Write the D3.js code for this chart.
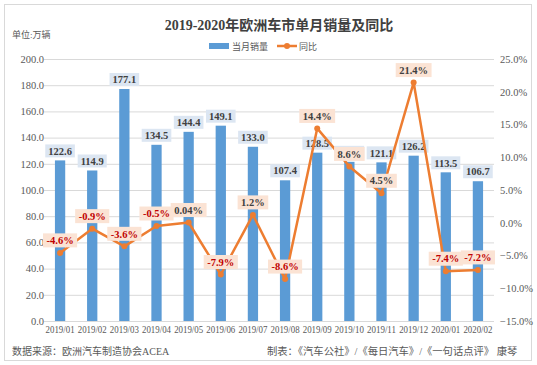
<!DOCTYPE html>
<html><head><meta charset="utf-8">
<script src="https://cdn.jsdelivr.net/npm/d3@7"></script>
<style>body{margin:0;background:#fff}svg{display:block}</style>
</head><body><svg id="c" width="537" height="365"></svg>
<script>
const categories = ["2019/01","2019/02","2019/03","2019/04","2019/05","2019/06","2019/07","2019/08","2019/09","2019/10","2019/11","2019/12","2020/01","2020/02"];
const sales = [122.6,114.9,177.1,134.5,144.4,149.1,133.0,107.4,128.5,121.5,121.1,126.2,113.5,106.7];
const yoy = [-4.6,-0.9,-3.6,-0.5,0.04,-7.9,1.2,-8.6,14.4,8.6,4.5,21.4,-7.4,-7.2];
const yoyLabels = ["-4.6%","-0.9%","-3.6%","-0.5%","0.04%","-7.9%","1.2%","-8.6%","14.4%","8.6%","4.5%","21.4%","-7.4%","-7.2%"];
const leftTicks = [0,20,40,60,80,100,120,140,160,180,200];
const rightTicks = [-15,-10,-5,0,5,10,15,20,25];

const svg = d3.select("#c");
const serif = "'Liberation Serif','DejaVu Serif',serif";
const cjk = "'Liberation Serif','Noto Sans CJK SC',sans-serif";

svg.append("rect").attr("x",4.5).attr("y",4.5).attr("width",527).attr("height",356)
  .attr("fill","#fff").attr("stroke","#d9d9d9");

const x = d3.scaleBand().domain(categories).range([44,494]).paddingInner(0.68).paddingOuter(0.34);
const yL = d3.scaleLinear().domain([0,200]).range([321,59]);
const yR = d3.scaleLinear().domain([-15,25]).range([321,59]);

// gridlines
svg.append("g").selectAll("line").data(leftTicks).join("line")
  .attr("x1",44).attr("x2",494).attr("y1",d=>yL(d)+0.5).attr("y2",d=>yL(d)+0.5)
  .attr("stroke","#d9d9d9");

// left axis
const ga = svg.append("g").attr("transform","translate(47,0)")
  .call(d3.axisLeft(yL).tickValues(leftTicks).tickFormat(d3.format(".1f")).tickSize(0).tickPadding(3));
ga.select(".domain").remove();
ga.selectAll("text").attr("font-family",serif).attr("font-size",10.5).attr("fill","#595959");

// right axis
const gr = svg.append("g").attr("transform","translate(497,0)")
  .call(d3.axisRight(yR).tickValues(rightTicks).tickFormat(d=>d3.format(".1f")(d)+"%").tickSize(0).tickPadding(3));
gr.select(".domain").remove();
gr.selectAll("text").attr("font-family",serif).attr("font-size",10.5).attr("fill","#595959");

// x axis
const gx = svg.append("g").attr("transform","translate(0,321)")
  .call(d3.axisBottom(x).tickSize(0).tickPadding(5));
gx.select(".domain").remove();
gx.selectAll("text").attr("font-family",serif).attr("font-size",10).attr("fill","#595959")
  .attr("textLength",29).attr("lengthAdjust","spacingAndGlyphs");

// bars
svg.append("g").selectAll("rect").data(sales).join("rect")
  .attr("x",(d,i)=>x(categories[i])).attr("width",x.bandwidth())
  .attr("y",d=>yL(d)).attr("height",d=>yL(0)-yL(d)).attr("fill","#5b9bd5");

// bar labels
const bl = svg.append("g").selectAll("g").data(sales).join("g")
  .attr("transform",(d,i)=>`translate(${x(categories[i])+x.bandwidth()/2},${yL(d)-9.5})`);
const blr = bl.append("rect").attr("y",-6.5).attr("height",13).attr("fill","#dce6f2");
const blt = bl.append("text").attr("text-anchor","middle").attr("dy","0.35em")
  .attr("font-family",serif).attr("font-weight","bold").attr("font-size",10.5).attr("fill","#404040")
  .text(d=>d.toFixed(1));
blt.each(function(d,i){
  const w = this.getComputedTextLength()+6;
  d3.select(blr.nodes()[i]).attr("x",-w/2).attr("width",w);
});

// line
const cx = i => x(categories[i]) + x.bandwidth()/2;
svg.append("path").datum(yoy)
  .attr("d", d3.line().x((d,i)=>cx(i)).y(d=>yR(d)))
  .attr("fill","none").attr("stroke","#ed7d31").attr("stroke-width",2.5).attr("stroke-linejoin","round");
svg.append("g").selectAll("circle").data(yoy).join("circle")
  .attr("cx",(d,i)=>cx(i)).attr("cy",d=>yR(d)).attr("r",3).attr("fill","#ed7d31");

// line labels
const ll = svg.append("g").selectAll("g").data(yoy).join("g")
  .attr("transform",(d,i)=>`translate(${cx(i)},${yR(d)-12.5})`);
const llr = ll.append("rect").attr("y",-7).attr("height",14).attr("fill","#fbe3d4");
const llt = ll.append("text").attr("text-anchor","middle").attr("dy","0.35em")
  .attr("font-family",serif).attr("font-weight","bold").attr("font-size",10.5)
  .attr("fill",d=>d<0?"#c00000":"#404040")
  .text((d,i)=>yoyLabels[i]);
llt.each(function(d,i){
  const w = this.getComputedTextLength()+7;
  d3.select(llr.nodes()[i]).attr("x",-w/2).attr("width",w);
});

// title
svg.append("text").attr("x",279).attr("y",30).attr("text-anchor","middle")
  .attr("font-family",cjk).attr("font-weight","bold").attr("font-size",14).attr("fill","#404040")
  .text("2019-2020年欧洲车市单月销量及同比");
svg.append("text").attr("x",12).attr("y",38).attr("font-family",cjk).attr("font-size",9).attr("fill","#595959")
  .text("单位:万辆");

// legend
svg.append("rect").attr("x",209).attr("y",43).attr("width",20).attr("height",6).attr("fill","#5b9bd5");
svg.append("text").attr("x",232).attr("y",49.5).attr("font-family",cjk).attr("font-size",9).attr("fill","#595959").text("当月销量");
svg.append("line").attr("x1",277).attr("x2",297).attr("y1",46).attr("y2",46).attr("stroke","#ed7d31").attr("stroke-width",2.5);
svg.append("circle").attr("cx",287).attr("cy",46).attr("r",3).attr("fill","#ed7d31");
svg.append("text").attr("x",299).attr("y",49.5).attr("font-family",cjk).attr("font-size",9).attr("fill","#595959").text("同比");

// footer
svg.append("text").attr("x",12).attr("y",355).attr("font-family",cjk).attr("font-size",10).attr("fill","#595959")
  .text("数据来源：欧洲汽车制造协会ACEA");
svg.append("text").attr("x",267).attr("y",355).attr("font-family",cjk).attr("font-size",10.3).attr("fill","#595959")
  .text("制表：《汽车公社》/《每日汽车》/《一句话点评》 康琴");
</script></body></html>
